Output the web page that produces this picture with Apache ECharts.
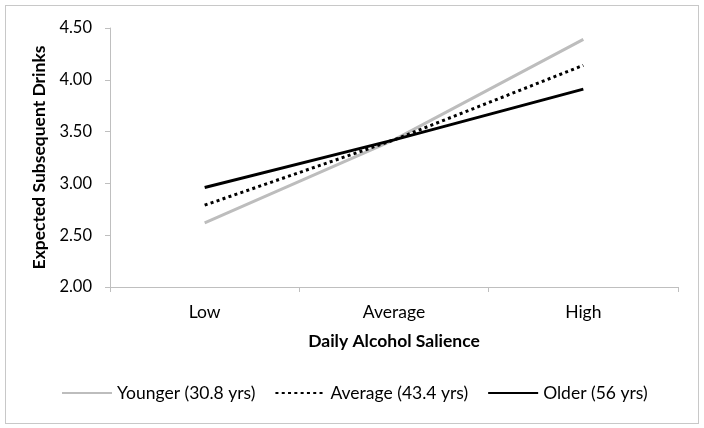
<!DOCTYPE html>
<html>
<head>
<meta charset="utf-8">
<script src="https://cdn.jsdelivr.net/npm/echarts@6/dist/echarts.min.js"></script>
<style>
	html, body { margin: 0; padding: 0; background: #fff; }
	#chart { width: 704px; height: 428px; }
	#frame { position: absolute; left: 5px; top: 5px; width: 692px; height: 417px; border: 1px solid #c8c8c8; pointer-events: none; }
</style>
</head>
<body>
<div id="chart"></div>
<div id="frame"></div>
<script>
	const categories = ['Low', 'Average', 'High'];
	const younger = [2.62, 3.42, 4.39];
	const average = [2.79, 3.42, 4.14];
	const older = [2.96, 3.42, 3.91];
	const seriesNames = ['Younger (30.8 yrs)', 'Average (43.4 yrs)', 'Older (56 yrs)'];

	var chart = echarts.init(document.getElementById('chart'), null, { width: 704, height: 428 });
	const font = 'Lato, "Open Sans", sans-serif';

	option = {
		backgroundColor: '#fff',
		animation: false,
		textStyle: { fontFamily: font },
		grid: {
			left: 110,
			right: 26,
			top: 28,
			bottom: 141
		},
		legend: {
			bottom: 21,
			left: 56,
			itemWidth: 50,
			itemHeight: 10,
			itemGap: 19,
			// hide the marker dot, keep only the line sample
			itemStyle: { opacity: 0 },
			textStyle: { fontFamily: font, fontSize: 17.5, color: '#000' },
			data: seriesNames
		},
		xAxis: {
			type: 'category',
			data: categories,
			boundaryGap: true,
			name: 'Daily Alcohol Salience',
			nameLocation: 'middle',
			nameGap: 45,
			nameTextStyle: { fontFamily: font, fontSize: 17.5, fontWeight: 'bold', color: '#000' },
			axisLine: { lineStyle: { color: '#bfbfbf', width: 1 } },
			axisTick: { show: true, length: 5, inside: false, lineStyle: { color: '#bfbfbf' } },
			axisLabel: { color: '#000', fontSize: 17.5, fontFamily: font, margin: 16 },
			splitLine: { show: false }
		},
		yAxis: {
			type: 'value',
			min: 2,
			max: 4.5,
			interval: 0.5,
			name: 'Expected Subsequent Drinks',
			nameLocation: 'middle',
			nameGap: 52,
			nameTextStyle: { fontFamily: font, fontSize: 17.5, fontWeight: 'bold', color: '#000' },
			axisLine: { show: true, lineStyle: { color: '#bfbfbf', width: 1 } },
			axisTick: { show: true, length: 5, lineStyle: { color: '#bfbfbf' } },
			axisLabel: {
				color: '#000',
				fontSize: 16.5,
				fontFamily: font,
				margin: 18,
				formatter: function(v) { return v.toFixed(2); }
			},
			splitLine: { show: false }
		},
		series: [{
			name: seriesNames[0],
			type: 'line',
			data: younger,
			symbol: 'none',
			lineStyle: { color: '#bdbdbd', width: 3 },
			itemStyle: { color: '#bdbdbd' }
		}, {
			name: seriesNames[1],
			type: 'line',
			data: average,
			symbol: 'none',
			lineStyle: { color: '#000', width: 3, type: [3, 3.3] },
			itemStyle: { color: '#000' }
		}, {
			name: seriesNames[2],
			type: 'line',
			data: older,
			symbol: 'none',
			lineStyle: { color: '#000', width: 3 },
			itemStyle: { color: '#000' }
		}]
	};

	chart.setOption(option);
</script>
</body>
</html>
